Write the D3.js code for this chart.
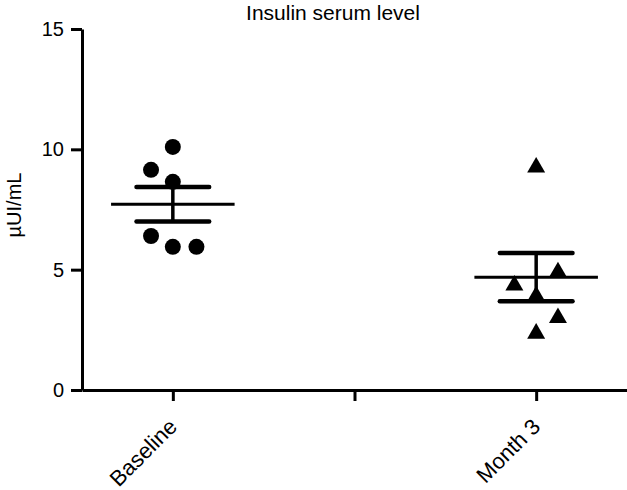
<!DOCTYPE html>
<html>
<head>
<meta charset="utf-8">
<script src="https://cdn.jsdelivr.net/npm/d3@7"></script>
<style>
  body { margin: 0; background: #fff; }
  text { font-family: Arial, "Liberation Sans", sans-serif; fill: #000; }
</style>
</head>
<body>
<div id="chart"></div>
<script>
// 圖表數據
const groups = ["Baseline", "Month 3"];
const groupPos = [1, 3];
const xTickValues = [1, 2, 3];
const xTickLabels = ["Baseline", "", "Month 3"];
const yTickValues = [0, 5, 10, 15];

const baselineValues = [10.1, 9.15, 8.65, 6.4, 5.95, 5.95];
const baselineJitter = [0, -0.12, 0, -0.12, 0, 0.13];
const month3Values = [9.25, 4.9, 4.35, 3.9, 3.0, 2.35];
const month3Jitter = [0, 0.12, -0.12, 0, 0.12, 0];

const means = [7.72, 4.69];
const sems = [0.72, 1.0];

const width = 627;
const height = 490;

const svg = d3.select("#chart").append("svg")
    .attr("width", width)
    .attr("height", height);

// 比例尺
const xScale = d3.scaleLinear()
    .domain([0.5, 3.5])
    .range([82, 627]);

const yScale = d3.scaleLinear()
    .domain([0, 15])
    .range([390, 29]);

// 標題
svg.append("text")
    .attr("x", 333)
    .attr("y", 20)
    .attr("text-anchor", "middle")
    .style("font-size", "21px")
    .text("Insulin serum level");

// Y 軸
const yAxis = d3.axisLeft(yScale)
    .tickValues(yTickValues)
    .tickSize(11)
    .tickSizeOuter(0)
    .tickPadding(7)
    .tickFormat(d3.format("d"));

const gy = svg.append("g")
    .attr("transform", `translate(${xScale(0.5)},0)`)
    .call(yAxis);

// X 軸
const xAxis = d3.axisBottom(xScale)
    .tickValues(xTickValues)
    .tickSize(11)
    .tickSizeOuter(0)
    .tickFormat((d, i) => xTickLabels[i]);

const gx = svg.append("g")
    .attr("transform", `translate(0,${yScale(0)})`)
    .call(xAxis);

[gx, gy].forEach(g => {
    g.select(".domain").attr("stroke", "#000").attr("stroke-width", 3);
    g.selectAll(".tick line").attr("stroke", "#000").attr("stroke-width", 3);
    g.selectAll(".tick text").style("font-size", "20px").attr("fill", "#000");
});

gx.selectAll(".tick text")
    .attr("text-anchor", "end")
    .attr("dy", null)
    .attr("y", null)
    .style("font-size", "22px")
    .attr("transform", "translate(5,38) rotate(-45)");

// Y 軸標題
svg.append("text")
    .attr("transform", "translate(21,205) rotate(-90)")
    .attr("text-anchor", "middle")
    .style("font-size", "20px")
    .text("µUI/mL");

// 散點
svg.append("g").selectAll("circle")
    .data(baselineValues)
    .join("circle")
    .attr("cx", (d, i) => xScale(groupPos[0] + baselineJitter[i]))
    .attr("cy", d => yScale(d))
    .attr("r", 8)
    .attr("fill", "#000");

const tri = d3.symbol().type(d3.symbolTriangle).size(140);
svg.append("g").selectAll("path")
    .data(month3Values)
    .join("path")
    .attr("d", tri)
    .attr("transform", (d, i) => `translate(${xScale(groupPos[1] + month3Jitter[i])},${yScale(d)})`)
    .attr("fill", "#000");

// 平均值與 SEM
const stats = svg.append("g").attr("stroke", "#000").attr("fill", "none");
groups.forEach((g, i) => {
    const cx = groupPos[i];
    const m = means[i];
    const s = sems[i];
    stats.append("line")
        .attr("x1", xScale(cx - 0.34)).attr("x2", xScale(cx + 0.34))
        .attr("y1", yScale(m)).attr("y2", yScale(m))
        .attr("stroke-width", 3);
    stats.append("line")
        .attr("x1", xScale(cx)).attr("x2", xScale(cx))
        .attr("y1", yScale(m + s)).attr("y2", yScale(m - s))
        .attr("stroke-width", 3.5);
    [m + s, m - s].forEach(v => {
        stats.append("line")
            .attr("x1", xScale(cx - 0.2)).attr("x2", xScale(cx + 0.2))
            .attr("y1", yScale(v)).attr("y2", yScale(v))
            .attr("stroke-width", 4.5)
            .attr("stroke-linecap", "round");
    });
});
</script>
</body>
</html>
